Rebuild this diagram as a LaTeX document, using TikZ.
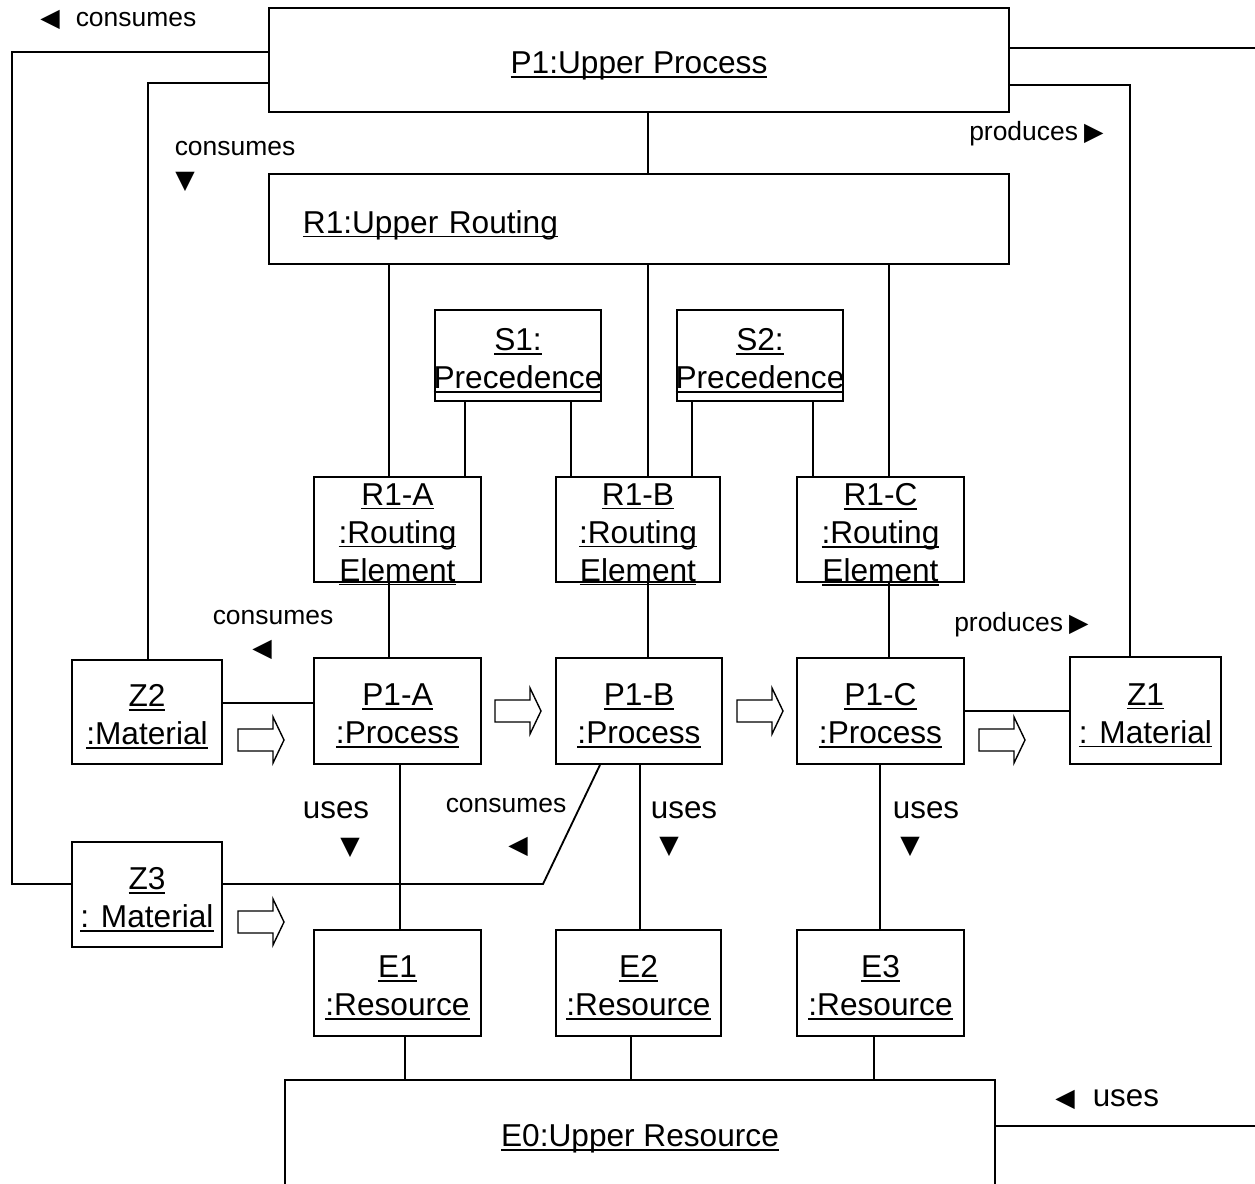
\documentclass[tikz,border=0pt]{standalone}
\usepackage{fontspec}
\setmainfont{Liberation Sans}
\newfontfamily\symfont{DejaVu Sans}
\usepackage{tikz}
\usetikzlibrary{positioning,calc}
\newcommand{\boxfont}{\fontsize{22.5}{27}\selectfont}
\newcommand{\labfont}{\fontsize{18.8}{22}\selectfont}
\newcommand{\bigfont}{\fontsize{22.3}{26}\selectfont}
\newcommand{\trifont}{\symfont\fontsize{18}{18}\selectfont}
% underline with a fixed depth, as in the drawing (text sits a little low)
\newcommand{\ul}[1]{\raisebox{-4pt}{\setbox0=\hbox{#1}\rlap{\rule[-3pt]{\wd0}{1.3pt}}\box0}}
\tikzset{
  obj/.style={draw, line width=1.3pt, inner sep=0pt, align=center, font=\boxfont, text depth=0pt},
  wh/.style 2 args={minimum width=#1*0.025cm, minimum height=#2*0.025cm},
  assoc/.style={line width=1.3pt},
  role/.style={inner sep=0pt, font=\labfont},
  dir/.style={inner sep=0pt, font=\trifont},
  flow/.style={line width=1pt, fill=white}
}
\begin{document}
\begin{tikzpicture}[x=0.025cm,y=-0.025cm]
  \clip (0,0) rectangle (1255,1183);
  % upper process and upper routing
  \node[obj,wh={740}{104}] (P1) at (639,60) {\ul{P1:Upper Process}};
  \node[obj,wh={740}{90},text width=16.8cm,align=left,inner xsep=0.85cm] (R1) at (639,219) {\ul{R1:Upper Routing}};
  % precedences (the name is wider than the box)
  \node[obj,wh={166}{91}] (S1) at (518,355.5) {\ul{S1:}\\\makebox[4.15cm]{\ul{Precedence}}};
  \node[obj,wh={166}{91}] (S2) at (760,355.5) {\ul{S2:}\\\makebox[4.15cm]{\ul{Precedence}}};
  % routing elements
  \node[obj,wh={167}{105}] (R1A) at (397.5,529.5) {\ul{R1-A}\\\ul{:Routing}\\\ul{Element}};
  \node[obj,wh={164}{105}] (R1B) at (638,529.5) {\ul{R1-B}\\\ul{:Routing}\\\ul{Element}};
  \node[obj,wh={167}{105}] (R1C) at (880.5,529.5) {\ul{R1-C}\\\ul{:Routing}\\\ul{Element}};
  % processes and materials
  \node[obj,wh={167}{106}] (P1A) at (397.5,711) {\ul{P1-A}\\\ul{:Process}};
  \node[obj,wh={166}{106}] (P1B) at (639,711) {\ul{P1-B}\\\ul{:Process}};
  \node[obj,wh={167}{106}] (P1C) at (880.5,711) {\ul{P1-C}\\\ul{:Process}};
  \node[obj,wh={150}{104}] (Z2) at (147,712) {\ul{Z2}\\\ul{:Material}};
  \node[obj,wh={151}{107}] (Z1) at (1145.5,710.5) {\ul{Z1}\\\ul{: Material}};
  \node[obj,wh={150}{105}] (Z3) at (147,894.5) {\ul{Z3}\\\ul{: Material}};
  % resources
  \node[obj,wh={167}{106}] (E1) at (397.5,983) {\ul{E1}\\\ul{:Resource}};
  \node[obj,wh={165}{106}] (E2) at (638.5,983) {\ul{E2}\\\ul{:Resource}};
  \node[obj,wh={167}{106}] (E3) at (880.5,983) {\ul{E3}\\\ul{:Resource}};
  \node[obj,wh={710}{106}] (E0) at (640,1133) {\ul{E0:Upper Resource}};
  \coordinate (outP) at (1255,48);
  \coordinate (outE) at (1255,1126);

  % links of the upper process
  \draw[assoc] (P1.west |- 0,52) -- (12,52) |- (Z3.west |- 0,884);
  \draw[assoc] (P1.west |- 0,83) -| (Z2.north -| 148,0);
  \draw[assoc] (P1.east |- outP) -- (outP);
  \draw[assoc] (P1.east |- 0,85) -| (Z1.north -| 1130,0);
  \draw[assoc] (P1.south -| 648,0) -- (R1.north -| 648,0);
  % routing tree
  \foreach \n/\x in {A/389,B/648,C/889}
    \draw[assoc] (R1.south -| \x,0) -- (R1\n.north -| \x,0);
  \draw[assoc] (S1.south -| 465,0) -- (R1A.north -| 465,0);
  \draw[assoc] (S1.south -| 571,0) -- (R1B.north -| 571,0);
  \draw[assoc] (S2.south -| 692,0) -- (R1B.north -| 692,0);
  \draw[assoc] (S2.south -| 813,0) -- (R1C.north -| 813,0);
  \foreach \n/\x in {A/389,B/648,C/889}
    \draw[assoc] (R1\n.south -| \x,0) -- (P1\n.north -| \x,0);
  % materials
  \draw[assoc] (Z2.east |- 0,703) -- (P1A.west |- 0,703);
  \draw[assoc] (P1C.east |- 0,711) -- (Z1.west |- 0,711);
  \draw[assoc] (Z3.east |- 0,884) -- (543,884) -- (P1B.south -| 600,0);
  % resources
  \foreach \n/\x/\k in {A/400/1,B/640/2,C/880/3}
    \draw[assoc] (P1\n.south -| \x,0) -- (E\k.north -| \x,0);
  \foreach \k/\x in {1/405,2/631,3/874}
    \draw[assoc] (E\k.south -| \x,0) -- (E0.north -| \x,0);
  \draw[assoc] (E0.east |- outE) -- (outE);

  % flow arrows
  \foreach \x/\y in {238/740,495/711,737/711,979/740,238/922}
    \filldraw[flow] (\x,\y-11) -- ++(35,0) -- ++(0,-12) -- (\x+46,\y) -- (\x+35,\y+23) -- ++(0,-12) -- (\x,\y+11) -- cycle;

  % role names
  \node[role,anchor=west] (consP) at (40,20) {{\trifont ◀}\hspace{0.4cm}consumes};
  \node[role] (consZ2) at (235,149) {consumes};
  \node[dir] (consZ2dir) at (185,182) {▼};
  \node[role,anchor=west] (prodZ1) at (969,134) {produces\hspace{0.15cm}{\trifont ▶}};
  \node[role] (consA) at (273,618) {consumes};
  \node[dir] (consAdir) at (262,650) {◀};
  \node[role,anchor=west] (prodC) at (954,625) {produces\hspace{0.15cm}{\trifont ▶}};
  \node[role,font=\bigfont] (usesA) at (336,810) {uses};
  \node[dir] (usesAdir) at (350,848) {▼};
  \node[role] (consB) at (506,806) {consumes};
  \node[dir] (consBdir) at (518,847) {◀};
  \node[role,font=\bigfont] (usesB) at (684,810) {uses};
  \node[dir] (usesBdir) at (669,847) {▼};
  \node[role,font=\bigfont] (usesC) at (926,810) {uses};
  \node[dir] (usesCdir) at (910,847) {▼};
  \node[role,anchor=west] (usesE0) at (1055,1100) {{\trifont ◀}\hspace{0.45cm}{\bigfont uses}};
\end{tikzpicture}
\end{document}
